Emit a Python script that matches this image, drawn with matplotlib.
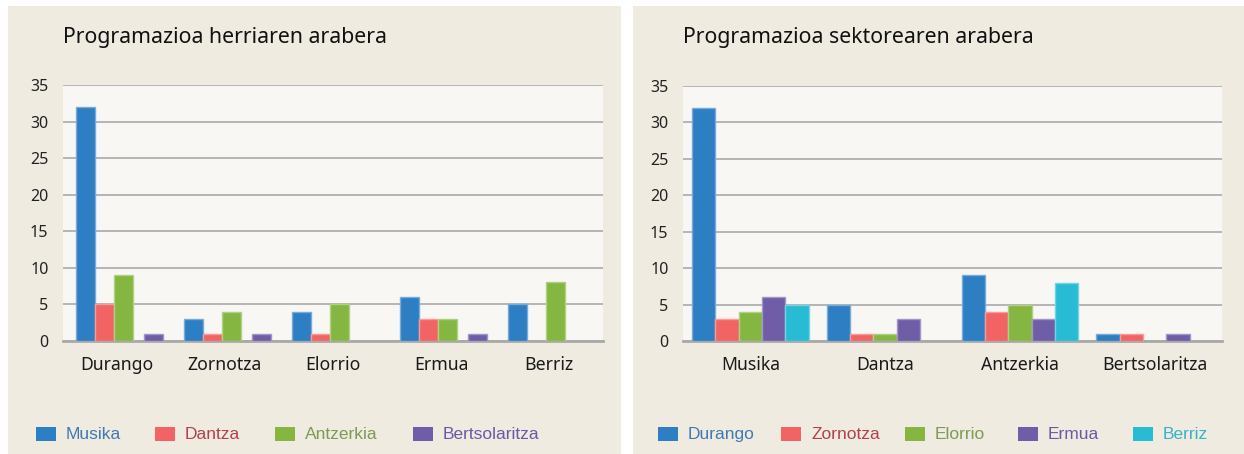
import numpy as np
import matplotlib.pyplot as plt
from matplotlib.patches import Rectangle
from matplotlib.colors import to_rgb

# data: left chart (by town), right chart (by sector)
towns = ['Durango', 'Zornotza', 'Elorrio', 'Ermua', 'Berriz']
sectors = ['Musika', 'Dantza', 'Antzerkia', 'Bertsolaritza']

musika = [32, 3, 4, 6, 5]
dantza = [5, 1, 1, 3, 0]
antzerkia = [9, 4, 5, 3, 8]
bertsolaritza = [1, 1, 0, 1, 0]

durango = [32, 5, 9, 1]
zornotza = [3, 1, 4, 1]
elorrio = [4, 1, 5, 0]
ermua = [6, 3, 3, 1]
berriz = [5, 0, 8, 0]

yticks = [0, 5, 10, 15, 20, 25, 30, 35]

BLUE, RED, GREEN, PURPLE, CYAN = '#2e7ec4', '#f26464', '#85b642', '#6f5da8', '#27bcd3'
TXT = {BLUE: '#4279b3', RED: '#b3414a', GREEN: '#7e9a55', PURPLE: '#6a5aa6', CYAN: '#35b3c8'}
PANEL = '#efebe1'
PLOT = '#f8f7f3'

W, H = 1244, 454
fig = plt.figure(figsize=(W / 100, H / 100), dpi=100)
fig.patch.set_facecolor('white')

FONT = ['Noto Sans', 'DejaVu Sans']
LFONT = ['Liberation Sans Narrow', 'Liberation Sans', 'DejaVu Sans']


def px_ax(x0, y0, x1, y1):
    return fig.add_axes([x0 / W, 1 - y1 / H, (x1 - x0) / W, (y1 - y0) / H])


def lighter(c, f=0.35):
    r, g, b = to_rgb(c)
    return (r + (1 - r) * f, g + (1 - g) * f, b + (1 - b) * f)


def nz(vals):
    # empty cells draw no bar at all
    v = np.asarray(vals, dtype=float)
    return np.where(v == 0, np.nan, v)


# panel backgrounds
for x0, x1 in [(8, 621), (633, 1244)]:
    fig.patches.append(Rectangle((x0 / W, 0), (x1 - x0) / W, 1 - 6 / H,
                                 transform=fig.transFigure, facecolor=PANEL,
                                 edgecolor='none', zorder=-5))


def style(ax, cats):
    ax.set_facecolor(PLOT)
    ax.set_ylim(0, 35)
    ax.set_xlim(0, len(cats))
    ax.set_yticks(yticks)
    ax.set_yticklabels([str(v) for v in yticks], fontsize=11.5, family=FONT, color='#222222')
    ax.set_xticks(np.arange(len(cats)) + 0.5)
    ax.set_xticklabels(cats, fontsize=12.7, family=FONT, color='#1a1a1a')
    ax.tick_params(length=0)
    ax.tick_params(axis='y', pad=10.5)
    ax.tick_params(axis='x', pad=11)
    for s in ['top', 'right', 'left']:
        ax.spines[s].set_visible(False)
    ax.spines['bottom'].set_color('#a9a9a9')
    ax.spines['bottom'].set_linewidth(2)
    ax.grid(axis='y', color='#b5b5b5', linewidth=1.4)
    ax.set_axisbelow(True)


# left chart: by town
ax1 = px_ax(63, 85, 603, 341)
style(ax1, towns)
left_series = [('Musika', musika, BLUE), ('Dantza', dantza, RED),
               ('Antzerkia', antzerkia, GREEN), ('Bertsolaritza', bertsolaritza, PURPLE)]
left_offsets = [0.208, 0.384, 0.564, 0.838]
bw1 = 0.177
xs = np.arange(len(towns))
for (name, vals, col), off in zip(left_series, left_offsets):
    ax1.bar(xs + off, nz(vals), bw1, color=col, edgecolor=lighter(col), linewidth=1, zorder=3)
fig.text(63 / W, 1 - 37 / H, 'Programazioa herriaren arabera', fontsize=15.3,
         family=FONT, color='#111111', va='center', ha='left')

# right chart: by sector
ax2 = px_ax(683, 86, 1222, 341)
style(ax2, sectors)
right_series = [('Durango', durango, BLUE), ('Zornotza', zornotza, RED),
                ('Elorrio', elorrio, GREEN), ('Ermua', ermua, PURPLE), ('Berriz', berriz, CYAN)]
bw2 = 0.173
xs2 = np.arange(len(sectors))
for i, (name, vals, col) in enumerate(right_series):
    ax2.bar(xs2 + 0.5 + (i - 2) * bw2, nz(vals), bw2, color=col, edgecolor=lighter(col),
            linewidth=1, zorder=3)
fig.text(683 / W, 1 - 37 / H, 'Programazioa sektorearen arabera', fontsize=15.3,
         family=FONT, color='#111111', va='center', ha='left')


# legends
def legend(items, xpos):
    for (name, vals, col), x in zip(items, xpos):
        fig.patches.append(Rectangle((x / W, 1 - 441 / H), 20 / W, 14 / H,
                                     transform=fig.transFigure, facecolor=col,
                                     edgecolor='none', zorder=2))
        fig.text((x + 30) / W, 1 - 434.5 / H, name, fontsize=12.5, family=LFONT,
                 color=TXT[col], va='center', ha='left')


legend(left_series, [36, 155, 275, 413])
legend(right_series, [658, 781, 905, 1018, 1133])

fig.savefig('out.png', dpi=100, facecolor=fig.get_facecolor())
